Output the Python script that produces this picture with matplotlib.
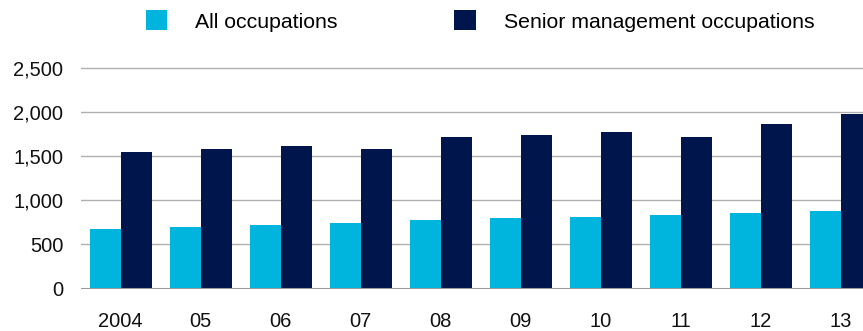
import numpy as np
import matplotlib
matplotlib.use("Agg")
import matplotlib.pyplot as plt

plt.rcParams['font.family'] = ['Liberation Sans', 'DejaVu Sans']

# 年ごとのデータ
years = ["2004", "05", "06", "07", "08", "09", "10", "11", "12", "13"]
all_occupations = [675, 698, 720, 743, 777, 799, 811, 833, 856, 879]
senior_management = [1546, 1580, 1614, 1580, 1716, 1738, 1772, 1716, 1863, 1976]
y_ticks = [0, 500, 1000, 1500, 2000, 2500]

light_color = "#00b5dd"
dark_color = "#01154d"

fig = plt.figure(figsize=(8.63, 3.31), dpi=100)
ax = fig.add_axes([0.0935, 0.1278, 0.9065, 0.6732])

x = np.arange(len(years))
w = 0.3875
b1 = ax.bar(x - w / 2, all_occupations, width=w, color=light_color, zorder=3,
            label="All occupations")
b2 = ax.bar(x + w / 2, senior_management, width=w, color=dark_color, zorder=3,
            label="Senior management occupations")

ax.set_xlim(-0.5, 9.279)
ax.set_ylim(0, 2520)
ax.set_xticks(x)
ax.set_xticklabels(years)
ax.set_yticks(y_ticks)
ax.set_yticklabels([f"{v:,}" for v in y_ticks])

# 目盛線
ax.yaxis.grid(True, color="#b0b0b2", linewidth=1.0, zorder=0)
ax.axhline(0, color="#9a9a9c", linewidth=2.2, zorder=4)
for s in ax.spines.values():
    s.set_visible(False)
ax.tick_params(axis="both", length=0, labelsize=14.5, colors="#111111")
ax.tick_params(axis="y", pad=12.5)
ax.tick_params(axis="x", pad=17)

# 凡例
fig.legend(handles=[b1, b2], loc="center left", bbox_to_anchor=(145.5 / 863, 1 - 21 / 331),
           ncol=2, frameon=False, fontsize=15.3, handlelength=1.0, handleheight=1.05,
           handletextpad=1.33, columnspacing=5.5, borderpad=0, borderaxespad=0)

fig.savefig("out.png", dpi=100)
